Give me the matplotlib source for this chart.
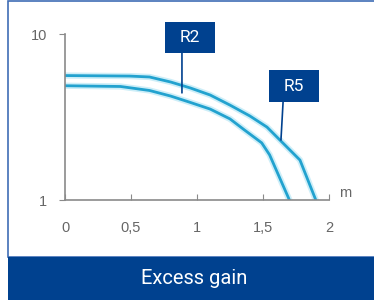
import matplotlib.pyplot as plt
import matplotlib.patheffects as pe
from matplotlib.patches import Rectangle

# curve data (distance in m, gain on log scale)
r2_x = [0.0, 0.42, 0.64, 0.80, 0.95, 1.10, 1.25, 1.36, 1.49, 1.55, 1.70]
r2_y = [4.88, 4.83, 4.57, 4.23, 3.87, 3.53, 3.08, 2.64, 2.21, 1.87, 1.0]
r5_x = [0.0, 0.49, 0.64, 0.80, 0.95, 1.10, 1.25, 1.40, 1.53, 1.78, 1.90]
r5_y = [5.62, 5.58, 5.51, 5.14, 4.73, 4.29, 3.73, 3.21, 2.75, 1.74, 1.0]

x_ticks = [0, 0.5, 1, 1.5, 2]
x_labels = ["0", "0,5", "1", "1,5", "2"]
y_ticks = [1, 10]
y_labels = ["1", "10"]

navy = "#00418f"
line_col = "#22a2cf"
grey = "#666666"

fig = plt.figure(figsize=(3.74, 3.0), dpi=100)
fig.patch.set_facecolor("white")

# panel frame and bottom banner (behind the axes)
fig.add_artist(Rectangle((8 / 374, 0.1433), 1.0, 0.852, transform=fig.transFigure,
                         facecolor="white", edgecolor="#3f6db5", lw=1.2, zorder=-2))
fig.add_artist(Rectangle((8 / 374, 0), 1.0, 0.1433, transform=fig.transFigure,
                         facecolor=navy, edgecolor="none", zorder=-1))
fig.text(0.52, 0.073, "Excess gain", color="white", fontsize=14.5,
         family="Roboto", ha="center", va="center")

ax = fig.add_axes([0.1738, 0.3333, 0.7059, 0.5533])
ax.set_facecolor("none")

glow = [pe.withStroke(linewidth=4.5, foreground="#cdeef8")]
ax.plot(r2_x, r2_y, color=line_col, lw=2, path_effects=glow, solid_joinstyle="round")
ax.plot(r5_x, r5_y, color=line_col, lw=2, path_effects=glow, solid_joinstyle="round")

ax.set_yscale("log")
ax.set_xlim(0, 2)
ax.set_ylim(1, 10)
ax.set_xticks(x_ticks)
ax.set_xticklabels(x_labels)
ax.set_yticks(y_ticks)
ax.set_yticklabels(y_labels)
ax.minorticks_off()

for s in ["top", "right"]:
    ax.spines[s].set_visible(False)
for s in ["left", "bottom"]:
    ax.spines[s].set_color("#8a8a8a")
    ax.spines[s].set_linewidth(1.2)

ax.tick_params(axis="x", direction="in", length=4, pad=15, colors="#8a8a8a",
               labelcolor=grey, labelsize=10.5)
ax.tick_params(axis="y", direction="out", length=4, pad=9, colors="#8a8a8a",
               labelcolor=grey, labelsize=10.5)
for lab in ax.get_xticklabels() + ax.get_yticklabels():
    lab.set_family("Liberation Sans")

ax.text(2.12, 1.10, "m", color=grey, fontsize=10.5, family="Liberation Sans",
        ha="center", va="center")

# labelled boxes with leader lines
labels = [
    # text, box (x0, y0, w, h) in axes fraction, leader start, leader end (data)
    ("R2", (0.379, 0.886, 0.189, 0.186), (0.443, 0.886), (0.886, 4.42)),
    ("R5", (0.773, 0.590, 0.189, 0.193), (0.826, 0.590), (1.636, 2.3)),
]
for txt, (bx, by, bw, bh), start, end in labels:
    ax.add_patch(Rectangle((bx, by), bw, bh, transform=ax.transAxes,
                           facecolor=navy, edgecolor="none", clip_on=False, zorder=5))
    ax.text(bx + bw / 2, by + bh / 2, txt, transform=ax.transAxes, color="white",
            fontsize=12.5, family="Roboto", ha="center", va="center", zorder=6)
    ax.annotate("", xy=end, xycoords="data", xytext=start, textcoords="axes fraction",
                arrowprops=dict(arrowstyle="-", color=navy, lw=1.2,
                                shrinkA=0, shrinkB=0),
                annotation_clip=False, zorder=5)

fig.savefig("out.png", dpi=100)
